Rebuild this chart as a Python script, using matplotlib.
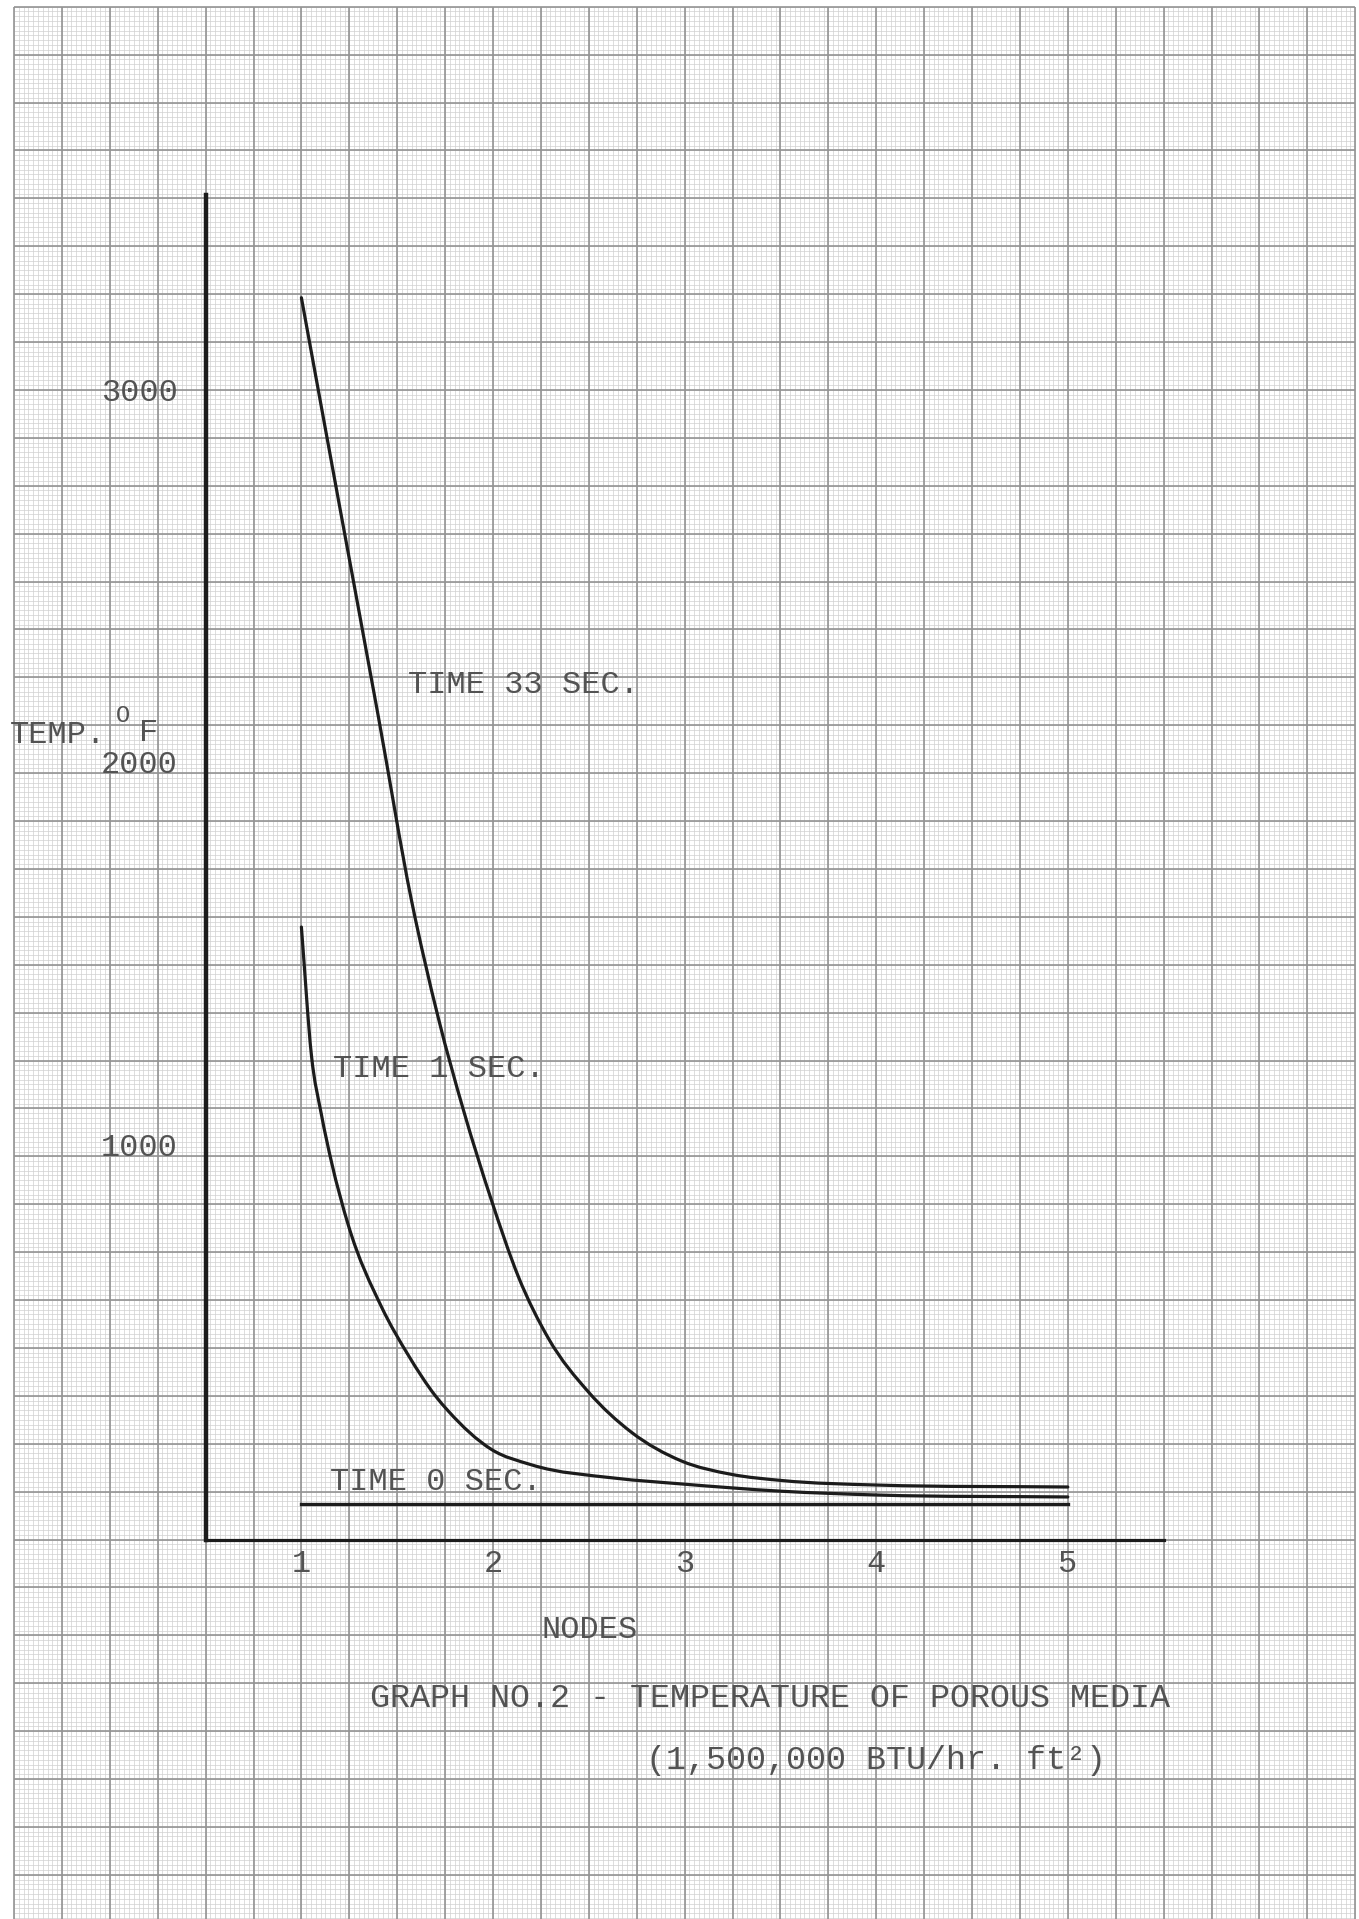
import numpy as np
import matplotlib
matplotlib.use("Agg")
import matplotlib.pyplot as plt
from matplotlib.path import Path
from matplotlib.patches import PathPatch

W, H, DPI = 1359, 1919, 100

plt.rcParams['font.family'] = ['Liberation Mono', 'DejaVu Sans Mono']

# values
nodes = [1, 2, 3, 4, 5]
temp_ticks = [1000, 2000, 3000]

t33_x = [1.0, 1.193, 1.402, 1.574, 1.715, 1.846, 1.992, 2.133, 2.289, 2.498,
         2.722, 2.983, 3.244, 3.505, 4.011, 5.0]
t33_y = [3240, 2713, 2146, 1669, 1360, 1120, 885, 685, 525, 385,
         280, 205, 170, 154, 142, 137]

t1_x = [1.0, 1.052, 1.104, 1.157, 1.245, 1.418, 1.559, 1.699, 1.767, 1.992,
        2.200, 2.639, 2.983, 3.505, 4.011, 5.0]
t1_y = [1598, 1265, 1110, 985, 820, 607, 480, 375, 335, 235,
        195, 160, 145, 126, 116, 111]

t0_x = [1, 2, 3, 4, 5]
t0_y = [93, 93, 93, 93, 93]

txt = '#535353'
ink = '#1c1c1c'


def smooth_path(x, y):
    # cubic through the read points (Bessel tangents, kept monotone), as bezier segments
    x = np.asarray(x, float)
    y = np.asarray(y, float)
    h = np.diff(x)
    delta = np.diff(y) / h
    d = np.zeros_like(x)
    d[0], d[-1] = delta[0], delta[-1]
    for i in range(1, len(x) - 1):
        if delta[i - 1] * delta[i] <= 0:
            d[i] = 0
        else:
            d[i] = (h[i] * delta[i - 1] + h[i - 1] * delta[i]) / (h[i - 1] + h[i])
            lim = 3 * min(abs(delta[i - 1]), abs(delta[i]))
            d[i] = np.sign(d[i]) * min(abs(d[i]), lim)
    verts = [(x[0], y[0])]
    codes = [Path.MOVETO]
    for i in range(len(x) - 1):
        verts += [(x[i] + h[i] / 3, y[i] + d[i] * h[i] / 3),
                  (x[i + 1] - h[i] / 3, y[i + 1] - d[i + 1] * h[i] / 3),
                  (x[i + 1], y[i + 1])]
        codes += [Path.CURVE4] * 3
    return Path(verts, codes)


fig = plt.figure(figsize=(W / DPI, H / DPI), dpi=DPI)
fig.patch.set_facecolor('white')

# graph paper, drawn in pixel units
bg = fig.add_axes([0, 0, 1, 1], zorder=0)
bg.set_xlim(0, W)
bg.set_ylim(H, 0)
bg.axis('off')
step = 47.9
gx0, gy0 = 14, 6.7
gx1 = gx0 + 28 * step
bg.vlines(np.arange(gx0, gx1 + 0.1, step / 10), gy0, H, color='#d0d0d0', lw=0.5)
bg.hlines(np.arange(gy0, H, step / 10), gx0, gx1, color='#d0d0d0', lw=0.5)
bg.vlines(np.arange(gx0, gx1 + 0.1, step), gy0, H, color='#939393', lw=1.2)
bg.hlines(np.arange(gy0, H, step), gx0, gx1, color='#939393', lw=1.2)

# the plot itself
ax = fig.add_axes([205.6 / W, 1 - 1539.5 / H, (1163.6 - 205.6) / W, (1539.5 - 195) / H],
                  zorder=2)
ax.patch.set_alpha(0)
ax.set_xlim(0.5, 5.5)
ax.set_ylim(0, 3508)
for s in ['top', 'right']:
    ax.spines[s].set_visible(False)
ax.spines['left'].set_linewidth(3.2)
ax.spines['bottom'].set_linewidth(2.3)
ax.spines['left'].set_color(ink)
ax.spines['bottom'].set_color(ink)

for xs, ys in [(t33_x, t33_y), (t1_x, t1_y)]:
    ax.add_patch(PathPatch(smooth_path(xs, ys), fill=False, edgecolor=ink, lw=2.3,
                           capstyle='round', joinstyle='round'))
ax.plot(t0_x, t0_y, color=ink, lw=2.4)

fs = 23
ax.set_xticks(nodes)
ax.set_yticks(temp_ticks, labels=[str(v) for v in temp_ticks])
ax.tick_params(length=0, labelsize=fs, labelcolor=txt)
ax.tick_params(axis='y', pad=20)
ax.tick_params(axis='x', pad=7)
for lbl in ax.get_yticklabels():
    lbl.set_verticalalignment('center_baseline' if lbl.get_text() == '3000' else 'baseline')

bg.text(10, 743, 'TEMP.', fontsize=fs, color=txt, ha='left', va='baseline')
bg.text(116, 722, 'O', fontsize=17, color=txt, ha='left', va='baseline')
bg.text(139, 741, 'F', fontsize=fs, color=txt, ha='left', va='baseline')

bg.text(408, 693, 'TIME 33 SEC.', fontsize=fs, color=txt, ha='left', va='baseline')
bg.text(333, 1077, 'TIME 1 SEC.', fontsize=fs, color=txt, ha='left', va='baseline')
bg.text(330, 1490, 'TIME 0 SEC.', fontsize=fs, color=txt, ha='left', va='baseline')

bg.text(590, 1638, 'NODES', fontsize=fs, color=txt, ha='center', va='baseline')
bg.text(370, 1707, 'GRAPH NO.2 - TEMPERATURE OF POROUS MEDIA', fontsize=24, color=txt,
        ha='left', va='baseline')
bg.text(646, 1769, '(1,500,000 BTU/hr. ft\u00b2)', fontsize=24, color=txt,
        ha='left', va='baseline')

fig.savefig('out.png', dpi=DPI)
